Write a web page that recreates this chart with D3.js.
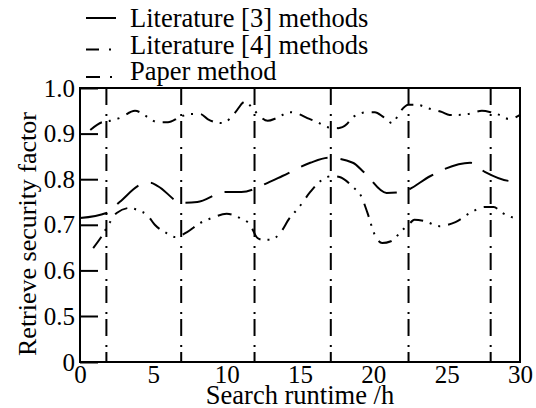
<!DOCTYPE html>
<html>
<head>
<meta charset="utf-8">
<script src="https://cdn.jsdelivr.net/npm/d3@7"></script>
</head>
<body style="margin:0">
<div id="chart"></div>
<script>
// Valeurs
const yTicks = [0, 0.5, 0.6, 0.7, 0.8, 0.9, 1.0];
const xTicks = [0, 5, 10, 15, 20, 25, 30];
const legendLabels = ["Literature [3] methods", "Literature [4] methods", "Paper method"];

// courbe du milieu (tirets longs)
const lit3Time  = [0, 1.8, 2.7, 4.2, 4.8, 5.3, 6.95, 8.0, 9.9, 11.0, 12.8, 13.8, 15.7, 17.0, 18.6, 19.4, 20.9, 21.9, 23.9, 24.7, 26.6, 27.6, 29.4, 30];
const lit3Value = [0.715, 0.726, 0.75, 0.789, 0.792, 0.785, 0.748, 0.75, 0.772, 0.772, 0.792, 0.807, 0.836, 0.847, 0.836, 0.814, 0.77, 0.772, 0.807, 0.82, 0.836, 0.816, 0.796, 0.796];

// courbe du bas (tiret-point-point)
const lit4Time  = [0.9, 1.4, 2.05, 2.5, 3.4, 3.95, 4.6, 5.1, 5.9, 6.5, 7.3, 8.2, 9.0, 10.0, 10.9, 11.6, 12.1, 12.5, 12.95, 13.6, 14.3, 14.9, 15.7, 16.4, 17.2, 17.7, 18.6, 19.2, 19.6, 20.1, 20.6, 21.2, 22.0, 22.4, 22.8, 23.5, 24.5, 25.6, 26.7, 27.6, 28.2, 28.8, 30];
const lit4Value = [0.649, 0.671, 0.706, 0.726, 0.737, 0.732, 0.721, 0.70, 0.682, 0.673, 0.684, 0.704, 0.715, 0.724, 0.715, 0.70, 0.671, 0.667, 0.667, 0.68, 0.715, 0.737, 0.772, 0.796, 0.807, 0.805, 0.783, 0.761, 0.726, 0.678, 0.66, 0.664, 0.689, 0.70, 0.711, 0.708, 0.697, 0.706, 0.728, 0.739, 0.739, 0.726, 0.711];

// courbe du haut
const paperTime  = [0.7, 1.5, 2.05, 2.7, 3.75, 4.2, 4.7, 5.3, 6.0, 6.8, 7.5, 8.2, 8.7, 9.2, 9.7, 10.2, 10.6, 11.25, 11.8, 12.2, 12.8, 13.4, 14.3, 14.9, 15.5, 16.2, 16.9, 17.6, 18.2, 18.6, 19.6, 20.1, 20.7, 21.3, 21.8, 22.4, 23.0, 23.7, 24.7, 25.2, 25.8, 26.5, 27.4, 28.0, 28.6, 29.25, 30];
const paperValue = [0.908, 0.925, 0.928, 0.934, 0.95, 0.945, 0.934, 0.925, 0.925, 0.936, 0.943, 0.943, 0.932, 0.925, 0.923, 0.932, 0.947, 0.97, 0.954, 0.94, 0.928, 0.934, 0.947, 0.943, 0.934, 0.925, 0.914, 0.912, 0.921, 0.936, 0.947, 0.947, 0.936, 0.923, 0.947, 0.963, 0.963, 0.956, 0.947, 0.941, 0.941, 0.943, 0.95, 0.947, 0.941, 0.932, 0.941];

// lignes verticales tiret-point
const markerTimes = [1.8, 6.9, 11.9, 17.1, 22.4, 28.0];

const width = 536;
const height = 408;
const marginLeft = 80;
const marginRight = 16;
const marginTop = 88;
const marginBottom = 46;

const dashLong = "28,13";
const dashDotDot = "14,7,2,7,2,8";
const dashDot = "17,9,2,5";

const x = d3.scaleLinear()
    .domain([0, 30])
    .range([marginLeft, width - marginRight]);

// axe coupé : 0 puis 0.5 -> 1.0
const y = d3.scaleLinear()
    .domain([0, 0.5, 1.0])
    .range([height - marginBottom, 316, marginTop]);

const svg = d3.select("#chart").append("svg")
    .attr("width", width)
    .attr("height", height);

// texte en police à empattements
function serifText(sel, size) {
    sel.attr("font-size", size)
        .attr("font-family", "Liberation Serif")
        .style("font-family", "Liberation Serif");
}

svg.append("g")
    .attr("transform", `translate(${marginLeft},0)`)
    .call(d3.axisLeft(y).tickValues(yTicks).tickSizeInner(-18).tickSizeOuter(0).tickPadding(5)
        .tickFormat(d => d === 0 ? "0" : d.toFixed(1)))
    .call(serifText, 25)
    .call(g => g.select(".domain").remove())
    .call(g => g.selectAll(".tick line").attr("stroke-width", 2))
    .call(g => g.selectAll(".tick text").call(serifText, 25));

svg.append("g")
    .attr("transform", `translate(0,${height - marginBottom})`)
    .call(d3.axisBottom(x).tickValues(xTicks).tickSize(0).tickPadding(3))
    .call(serifText, 25)
    .call(g => g.select(".domain").remove())
    .call(g => g.selectAll(".tick text").call(serifText, 25));

svg.append("rect")
    .attr("x", marginLeft)
    .attr("y", marginTop)
    .attr("width", width - marginLeft - marginRight)
    .attr("height", height - marginTop - marginBottom)
    .attr("fill", "none")
    .attr("stroke", "black")
    .attr("stroke-width", 2);

svg.append("g")
    .selectAll("line")
    .data(markerTimes)
    .join("line")
    .attr("x1", d => x(d))
    .attr("x2", d => x(d))
    .attr("y1", marginTop)
    .attr("y2", height - marginBottom)
    .attr("stroke", "black")
    .attr("stroke-width", 2)
    .attr("stroke-dasharray", dashDot);

const line = d3.line()
    .x(d => x(d[0]))
    .y(d => y(d[1]))
    .curve(d3.curveMonotoneX);

const series = [
    { points: d3.zip(lit3Time, lit3Value), dash: dashLong },
    { points: d3.zip(lit4Time, lit4Value), dash: dashDotDot },
    { points: d3.zip(paperTime, paperValue), dash: dashDotDot }
];

svg.append("g")
    .selectAll("path")
    .data(series)
    .join("path")
    .attr("fill", "none")
    .attr("stroke", "black")
    .attr("stroke-width", 2)
    .attr("stroke-dasharray", d => d.dash)
    .attr("d", d => line(d.points));

// légende
const legendDash = [null, "13,10,2,6,2,20", "14,10,2,20"];
const legendLineDy = [-9, -4, -3];
const legend = svg.append("g")
    .selectAll("g")
    .data(legendLabels)
    .join("g")
    .attr("transform", (d, i) => `translate(0,${27 + i * 26.5})`);

legend.append("line")
    .attr("x1", 86)
    .attr("x2", 116)
    .attr("y1", (d, i) => legendLineDy[i])
    .attr("y2", (d, i) => legendLineDy[i])
    .attr("stroke", "black")
    .attr("stroke-width", 2)
    .attr("stroke-dasharray", (d, i) => legendDash[i]);

legend.append("text")
    .attr("x", 130)
    .call(serifText, 26.5)
    .text(d => d);

svg.append("text")
    .attr("x", (marginLeft + width - marginRight) / 2)
    .attr("y", 404)
    .attr("text-anchor", "middle")
    .call(serifText, 26.5)
    .text("Search runtime /h");

svg.append("text")
    .attr("transform", "translate(36,234) rotate(-90)")
    .attr("text-anchor", "middle")
    .call(serifText, 26)
    .text("Retrieve security factor");
</script>
</body>
</html>
